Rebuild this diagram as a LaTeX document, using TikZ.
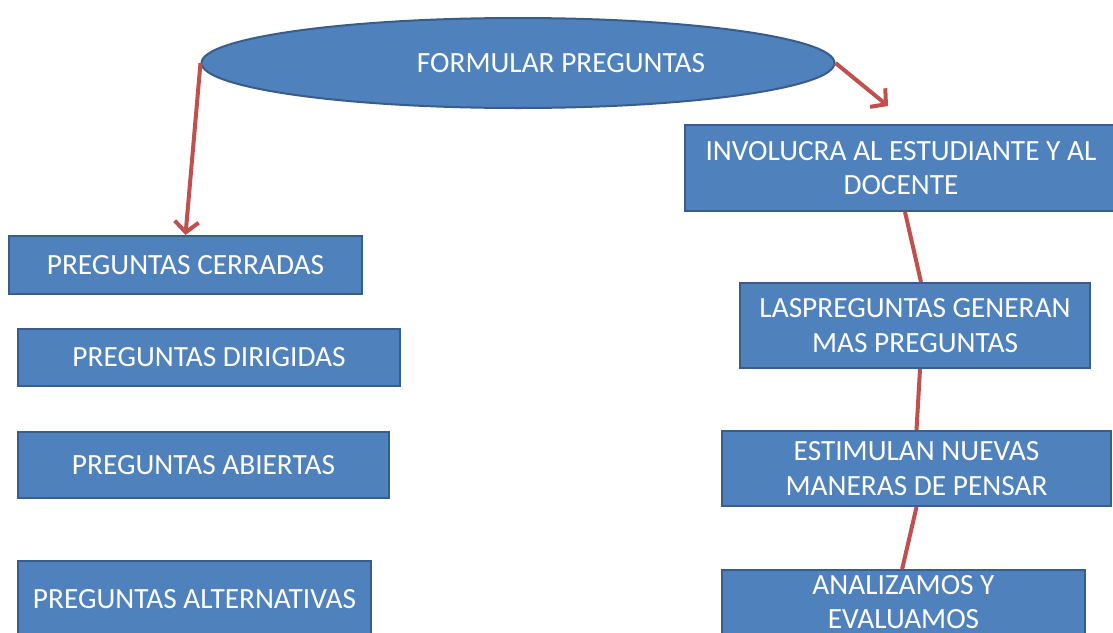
\documentclass[tikz,border=0pt]{standalone}
\usepackage{fontspec}
\setmainfont{Carlito}
\usetikzlibrary{shapes.geometric, arrows.meta}
\definecolor{boxblue}{HTML}{4F81BD}
\definecolor{boxline}{HTML}{385D8A}
\definecolor{linkred}{HTML}{C0504D}

\begin{document}
\begin{tikzpicture}[x=0.75pt, y=-0.75pt,
  box/.style={draw=boxline, fill=boxblue, line width=1.5pt, text=white, align=center, inner sep=0pt, font=\fontsize{22}{26}\selectfont},
  link/.style={draw=linkred, line width=3pt},
  linkarrow/.style={link, -{Straight Barb[length=8pt, width=18pt]}}]

\useasboundingbox (0,0) rectangle (1113,632);
\clip (0,0) rectangle (1113,632);

%top ellipse
\node[box, ellipse, minimum width=474.75pt, minimum height=67.5pt] at (518, 63)(ell){};
\node[text=white, font=\fontsize{22}{26}\selectfont] at (561, 63)(elltext){FORMULAR PREGUNTAS};

%left boxes
\node[box, minimum width=264.75pt, minimum height=43.5pt] at (185.5, 265)(cerr){PREGUNTAS CERRADAS};
\node[box, minimum width=286.5pt, minimum height=42.75pt] at (209, 357.5)(dirig){PREGUNTAS DIRIGIDAS};
\node[box, minimum width=278.25pt, minimum height=49.5pt] at (203.5, 465)(abier){PREGUNTAS ABIERTAS};
\node[box, minimum width=264.75pt, minimum height=57pt] at (194.5, 599)(alter){PREGUNTAS ALTERNATIVAS};

%right boxes
\node[box, minimum width=324pt, minimum height=64.5pt] at (901, 168)(invol){INVOLUCRA AL ESTUDIANTE Y AL\\DOCENTE};
\node[box, minimum width=262.5pt, minimum height=63.75pt] at (915, 325.5)(genera){LASPREGUNTAS GENERAN\\MAS PREGUNTAS};
\node[box, minimum width=291.75pt, minimum height=56.25pt] at (916.5, 468.5)(estim){ESTIMULAN NUEVAS\\MANERAS DE PENSAR};
\node[box, minimum width=272.25pt, minimum height=48pt] at (903.5, 602)(anali){ANALIZAMOS Y\\EVALUAMOS};

%arrows
\coordinate (tipR) at (888, 106);
\draw[linkarrow] (ell.west) -- (cerr.north);
\draw[linkarrow] (ell.east) -- (tipR);

%links
\draw[link] ([xshift=3pt]invol.south) -- ([xshift=4.5pt]genera.north);
\draw[link] ([xshift=3.75pt]genera.south) -- (estim.north);
\draw[link] (estim.south) -- ([xshift=-1pt]anali.north);

\end{tikzpicture}
\end{document}
